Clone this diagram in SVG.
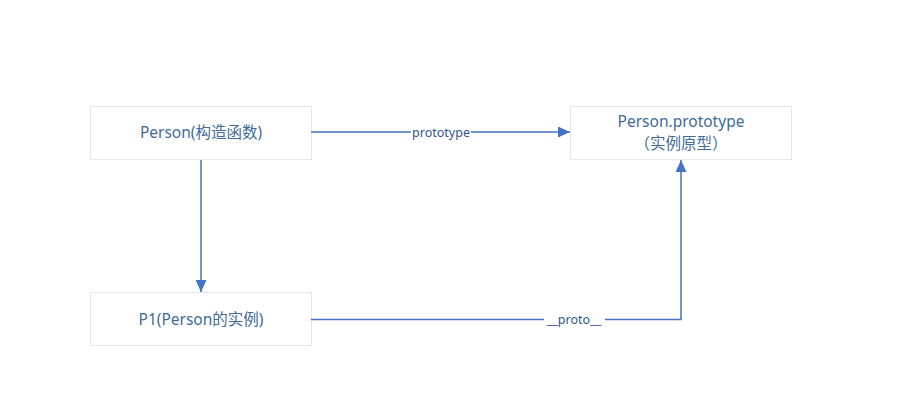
<svg xmlns="http://www.w3.org/2000/svg" width="922" height="420" viewBox="0 0 922 420">
<style>
.box{fill:#fff;stroke:#e3e6ea;stroke-width:1}
.t{font-family:"Noto Sans","Noto Sans CJK SC",sans-serif;font-size:15.5px;fill:#3f6c98;text-anchor:middle}
.c{fill:none;stroke:#4472c4;stroke-width:1.5}
.lbl{font-family:"Noto Sans","Noto Sans CJK SC",sans-serif;font-size:12.5px;fill:#2f5597;text-anchor:middle}
.bg{fill:#fff}
</style>
<defs>
<marker id="ah" markerWidth="12" markerHeight="11" refX="12" refY="5.5" orient="auto" markerUnits="userSpaceOnUse">
<path d="M0,0 L12,5.5 L0,11 Z" fill="#4472c4"/>
</marker>
</defs>
<rect width="922" height="420" fill="#fff"/>
<g id="person">
<rect class="box" x="90.5" y="106.5" width="221" height="53"/>
<text class="t" x="201" y="138">Person(构造函数)</text>
</g>
<g id="prototype">
<rect class="box" x="570.5" y="106.5" width="221" height="53"/>
<text class="t" x="681" y="127">Person.prototype</text>
<text class="t" x="681" y="149">（实例原型）</text>
</g>
<g id="p1">
<rect class="box" x="90.5" y="292.5" width="221" height="53"/>
<text class="t" x="201" y="325">P1(Person的实例)</text>
</g>
<g id="connectors">
<path class="c" d="M311,132 H570" marker-end="url(#ah)"/>
<rect class="bg" x="411" y="124" width="60" height="15"/>
<text class="lbl" x="441" y="136.5">prototype</text>
<path class="c" d="M201,160 V292" marker-end="url(#ah)"/>
<path class="c" d="M311,319.5 H681 V160" marker-end="url(#ah)"/>
<rect class="bg" x="544" y="311" width="61" height="16"/>
<text class="lbl" x="574" y="324">__proto__</text>
</g>
</svg>
